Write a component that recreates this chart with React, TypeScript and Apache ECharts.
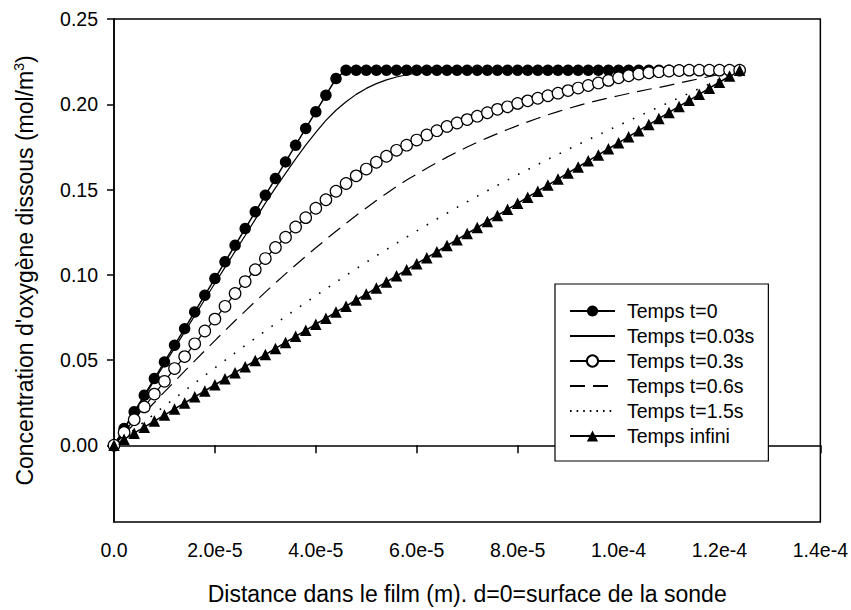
import React, { useEffect, useRef } from "react";
import * as echarts from "echarts";

// distance grid in micrometres (converted to metres for plotting)
const xMicron = [0,2,4,6,8,10,12,14,16,18,20,22,24,26,28,30,32,34,36,38,40,42,44,46,48,50,52,54,56,58,60,62,64,66,68,70,72,74,76,78,80,82,84,86,88,90,92,94,96,98,100,102,104,106,108,110,112,114,116,118,120,122,124];

const tempsT0 = [0,.0098,.0196,.0293,.0391,.0489,.0587,.0684,.0782,.088,.0978,.1076,.1173,.1271,.1369,.1467,.1564,.1662,.176,.1858,.1956,.2053,.2151,
  .22,.22,.22,.22,.22,.22,.22,.22,.22,.22,.22,.22,.22,.22,.22,.22,.22,.22,.22,.22,.22,.22,.22,.22,.22,.22,.22,.22,.22,.22,.22,.22,.22,.22,.22,.22,.22,.22,.22,.22];
const tempsT003 = [0,.0095,.019,.0285,.038,.0475,.057,.0665,.076,.0855,.095,.1043,.1137,.123,.1325,.142,
  .151,.1595,.168,.176,.1835,.1905,.1965,.2015,.2058,.2093,.2121,.2143,.216,.2173,.2183,.219,.2195,.2198,
  .22,.22,.22,.22,.22,.22,.22,.22,.22,.22,.22,.22,.22,.22,.22,.22,.22,.22,.22,.22,.22,.22,.22,.22,.22,.22,.22,.22,.22];
const tempsT03 = [0,.0075,.015,.0225,.03,.0375,.045,.052,.0595,.067,.074,.0815,.089,.096,.103,.1095,.116,.122,.128,.1335,.139,.144,.149,.1535,.158,.162,.166,.1695,.173,.176,.179,.182,.1845,.187,.189,.191,.193,.195,.197,.1985,
  .2005,.202,.2035,.205,.2065,.208,.2095,.211,.2125,.214,.2155,.2167,.2177,.2185,.2191,.2195,.2198,
  .22,.22,.22,.22,.22,.22];
const tempsT06 = [0,.0063,.0126,.0189,.0251,.0313,.0374,.0435,.0495,.0555,.0614,.0672,.073,.0787,.0843,.0898,.0952,.1005,.1057,.1108,.1158,.1207,.1255,.1302,.1348,.1392,.1435,.1477,.1517,.1556,
  .159,.1625,.1658,.169,.172,.1749,.1777,.1803,.1828,.1852,.1875,.1897,.1918,.1938,.1957,.1975,.1992,.2008,.2023,.2037,.205,.2063,.2076,.2088,.2098,.2111,.2124,.2137,.215,.2163,.2176,.2188,.22];
const tempsT15 = [0,.0046,.0092,.0138,.0184,.023,.0275,.032,.0365,.041,.0454,.0498,.0542,.0585,.0628,.0671,.0713,.0755,.0796,.0837,.0877,.0917,.0957,.0996,.1035,.1073,.1111,.1148,.1185,.1221,.1257,.1292,.1327,.1361,.1395,.1428,.1461,.1493,.1525,.1556,.1587,.1617,.1647,.1677,.1706,.1735,.1764,.1792,.182,.1848,.1876,.1903,.193,.1957,.1984,.2011,.2038,.2065,.2092,.2119,.2146,.2173,.22];
const tempsInfini = [0,.0035,.0071,.0106,.0142,.0177,.0213,.0248,.0284,.0319,.0355,.039,.0426,.0461,.0497,.0532,.0568,.0603,.0639,.0674,.071,.0745,.0781,.0816,.0852,.0887,.0923,.0958,.0994,.1029,.1065,.11,.1135,.1171,.1206,.1242,.1277,.1313,.1348,.1384,.1419,.1455,.149,.1526,.1561,.1597,.1632,.1668,.1703,.1739,.1774,.181,.1845,.1881,.1916,.1952,.1987,.2023,.2058,.2094,.2129,.2165,.22];

const seriesNames = ["Temps t=0", "Temps t=0.03s", "Temps t=0.3s", "Temps t=0.6s", "Temps t=1.5s", "Temps infini"];

const xTicks = [0, 2e-5, 4e-5, 6e-5, 8e-5, 1e-4, 1.2e-4, 1.4e-4];
const xTickLabels = ["0.0", "2.0e-5", "4.0e-5", "6.0e-5", "8.0e-5", "1.0e-4", "1.2e-4", "1.4e-4"];
const yTicks = [0, 0.05, 0.1, 0.15, 0.2, 0.25];
const yTickLabels = ["0.00", "0.05", "0.10", "0.15", "0.20", "0.25"];

const FONT = "'Liberation Sans', Arial, sans-serif";

function pairs(ys: number[]) {
  return xMicron.map((x, i) => [x * 1e-6, ys[i]]);
}

export default function App() {
  const ref = useRef<HTMLDivElement>(null);
  useEffect(() => {
    if (!ref.current) return;
    const chart = echarts.init(ref.current, undefined, { renderer: "svg" });
    const black = "#000";
    const clear = "rgba(0,0,0,0)";
    const base = {
      type: "line",
      animation: false,
      silent: true,
      color: black,
    };
    chart.setOption({
      animation: false,
      backgroundColor: "#fff",
      textStyle: { fontFamily: FONT, color: black },
      grid: {
        left: 114, top: 19, right: 30, bottom: 87,
        show: true, borderColor: black, borderWidth: 1.5, containLabel: false,
      },
      legend: {
        orient: "vertical",
        left: 555, top: 284,
        itemWidth: 45, itemHeight: 14, itemGap: 5,
        padding: [17, 14, 15, 14],
        borderColor: black, borderWidth: 1.2,
        backgroundColor: "#fff",
        selectedMode: false,
        textStyle: { fontSize: 19.5, color: black, fontFamily: FONT, padding: [0, 0, 0, 7] },
        data: [
          { name: seriesNames[0] },
          { name: seriesNames[1], itemStyle: { color: clear, borderColor: clear, borderWidth: 0 } },
          { name: seriesNames[2] },
          { name: seriesNames[3], itemStyle: { color: clear, borderColor: clear, borderWidth: 0 } },
          { name: seriesNames[4], itemStyle: { color: clear, borderColor: clear, borderWidth: 0 }, lineStyle: { type: [1.6, 5] } },
          { name: seriesNames[5] },
        ],
      },
      xAxis: {
        type: "value",
        min: 0, max: 1.4e-4,
        name: "Distance dans le film (m). d=0=surface de la sonde",
        nameLocation: "middle",
        nameGap: 60,
        nameTextStyle: { fontSize: 23, color: black, fontFamily: FONT },
        axisLine: { show: true, lineStyle: { color: black, width: 1.5 } },
        axisTick: { show: true, inside: false, length: 8, customValues: xTicks, lineStyle: { color: black, width: 1.5 } },
        axisLabel: {
          customValues: xTicks,
          margin: 18,
          fontSize: 19.5, color: black, fontFamily: FONT,
          formatter: (v: number) => {
            const i = xTicks.findIndex((t) => Math.abs(t - v) < 1e-9);
            return i >= 0 ? xTickLabels[i] : "";
          },
        },
        splitLine: { show: false },
      },
      yAxis: {
        type: "value",
        min: -0.045, max: 0.25,
        name: "Concentration d'oxygène dissous (mol/m{sup|3})",
        nameLocation: "middle",
        nameRotate: 90,
        nameGap: 76,
        nameTextStyle: {
          fontSize: 23, color: black, fontFamily: FONT,
          rich: { sup: { fontSize: 14, color: black, fontFamily: FONT, verticalAlign: "top", padding: [0, 0, 12, 0] } },
        },
        axisLine: { show: true, lineStyle: { color: black, width: 1.5 } },
        axisTick: { show: true, inside: false, length: 7, customValues: yTicks, lineStyle: { color: black, width: 1.5 } },
        axisLabel: {
          customValues: yTicks,
          margin: 16,
          fontSize: 19.5, color: black, fontFamily: FONT,
          formatter: (v: number) => {
            const i = yTicks.findIndex((t) => Math.abs(t - v) < 1e-9);
            return i >= 0 ? yTickLabels[i] : "";
          },
        },
        splitLine: { show: false },
      },
      series: [
        {
          ...base, name: seriesNames[0], data: pairs(tempsT0),
          symbol: "circle", symbolSize: 11.5, showSymbol: true,
          itemStyle: { color: black },
          lineStyle: { color: black, width: 1.5 },
        },
        {
          ...base, name: seriesNames[1], data: pairs(tempsT003),
          symbol: "none", showSymbol: false,
          lineStyle: { color: black, width: 1.2 },
        },
        {
          ...base, name: seriesNames[2], data: pairs(tempsT03),
          symbol: "circle", symbolSize: 11.5, showSymbol: true,
          itemStyle: { color: "#fff", borderColor: black, borderWidth: 1.2 },
          lineStyle: { color: black, width: 1.2 },
        },
        {
          ...base, name: seriesNames[3], data: pairs(tempsT06),
          symbol: "none", showSymbol: false,
          lineStyle: { color: black, width: 1.2, type: [15, 8] },
        },
        {
          ...base, name: seriesNames[4], data: pairs(tempsT15),
          symbol: "none", showSymbol: false,
          lineStyle: { color: black, width: 1.6, type: [1.6, 10] },
        },
        {
          ...base, name: seriesNames[5], data: pairs(tempsInfini),
          symbol: "triangle", symbolSize: 11.5, showSymbol: true,
          itemStyle: { color: black },
          lineStyle: { color: black, width: 1.5 },
        },
      ],
    });
    return () => chart.dispose();
  }, []);
  return (
    <div
      ref={ref}
      style={{ position: "fixed", left: 0, top: 0, width: 851, height: 610, background: "#fff" }}
    />
  );
}
